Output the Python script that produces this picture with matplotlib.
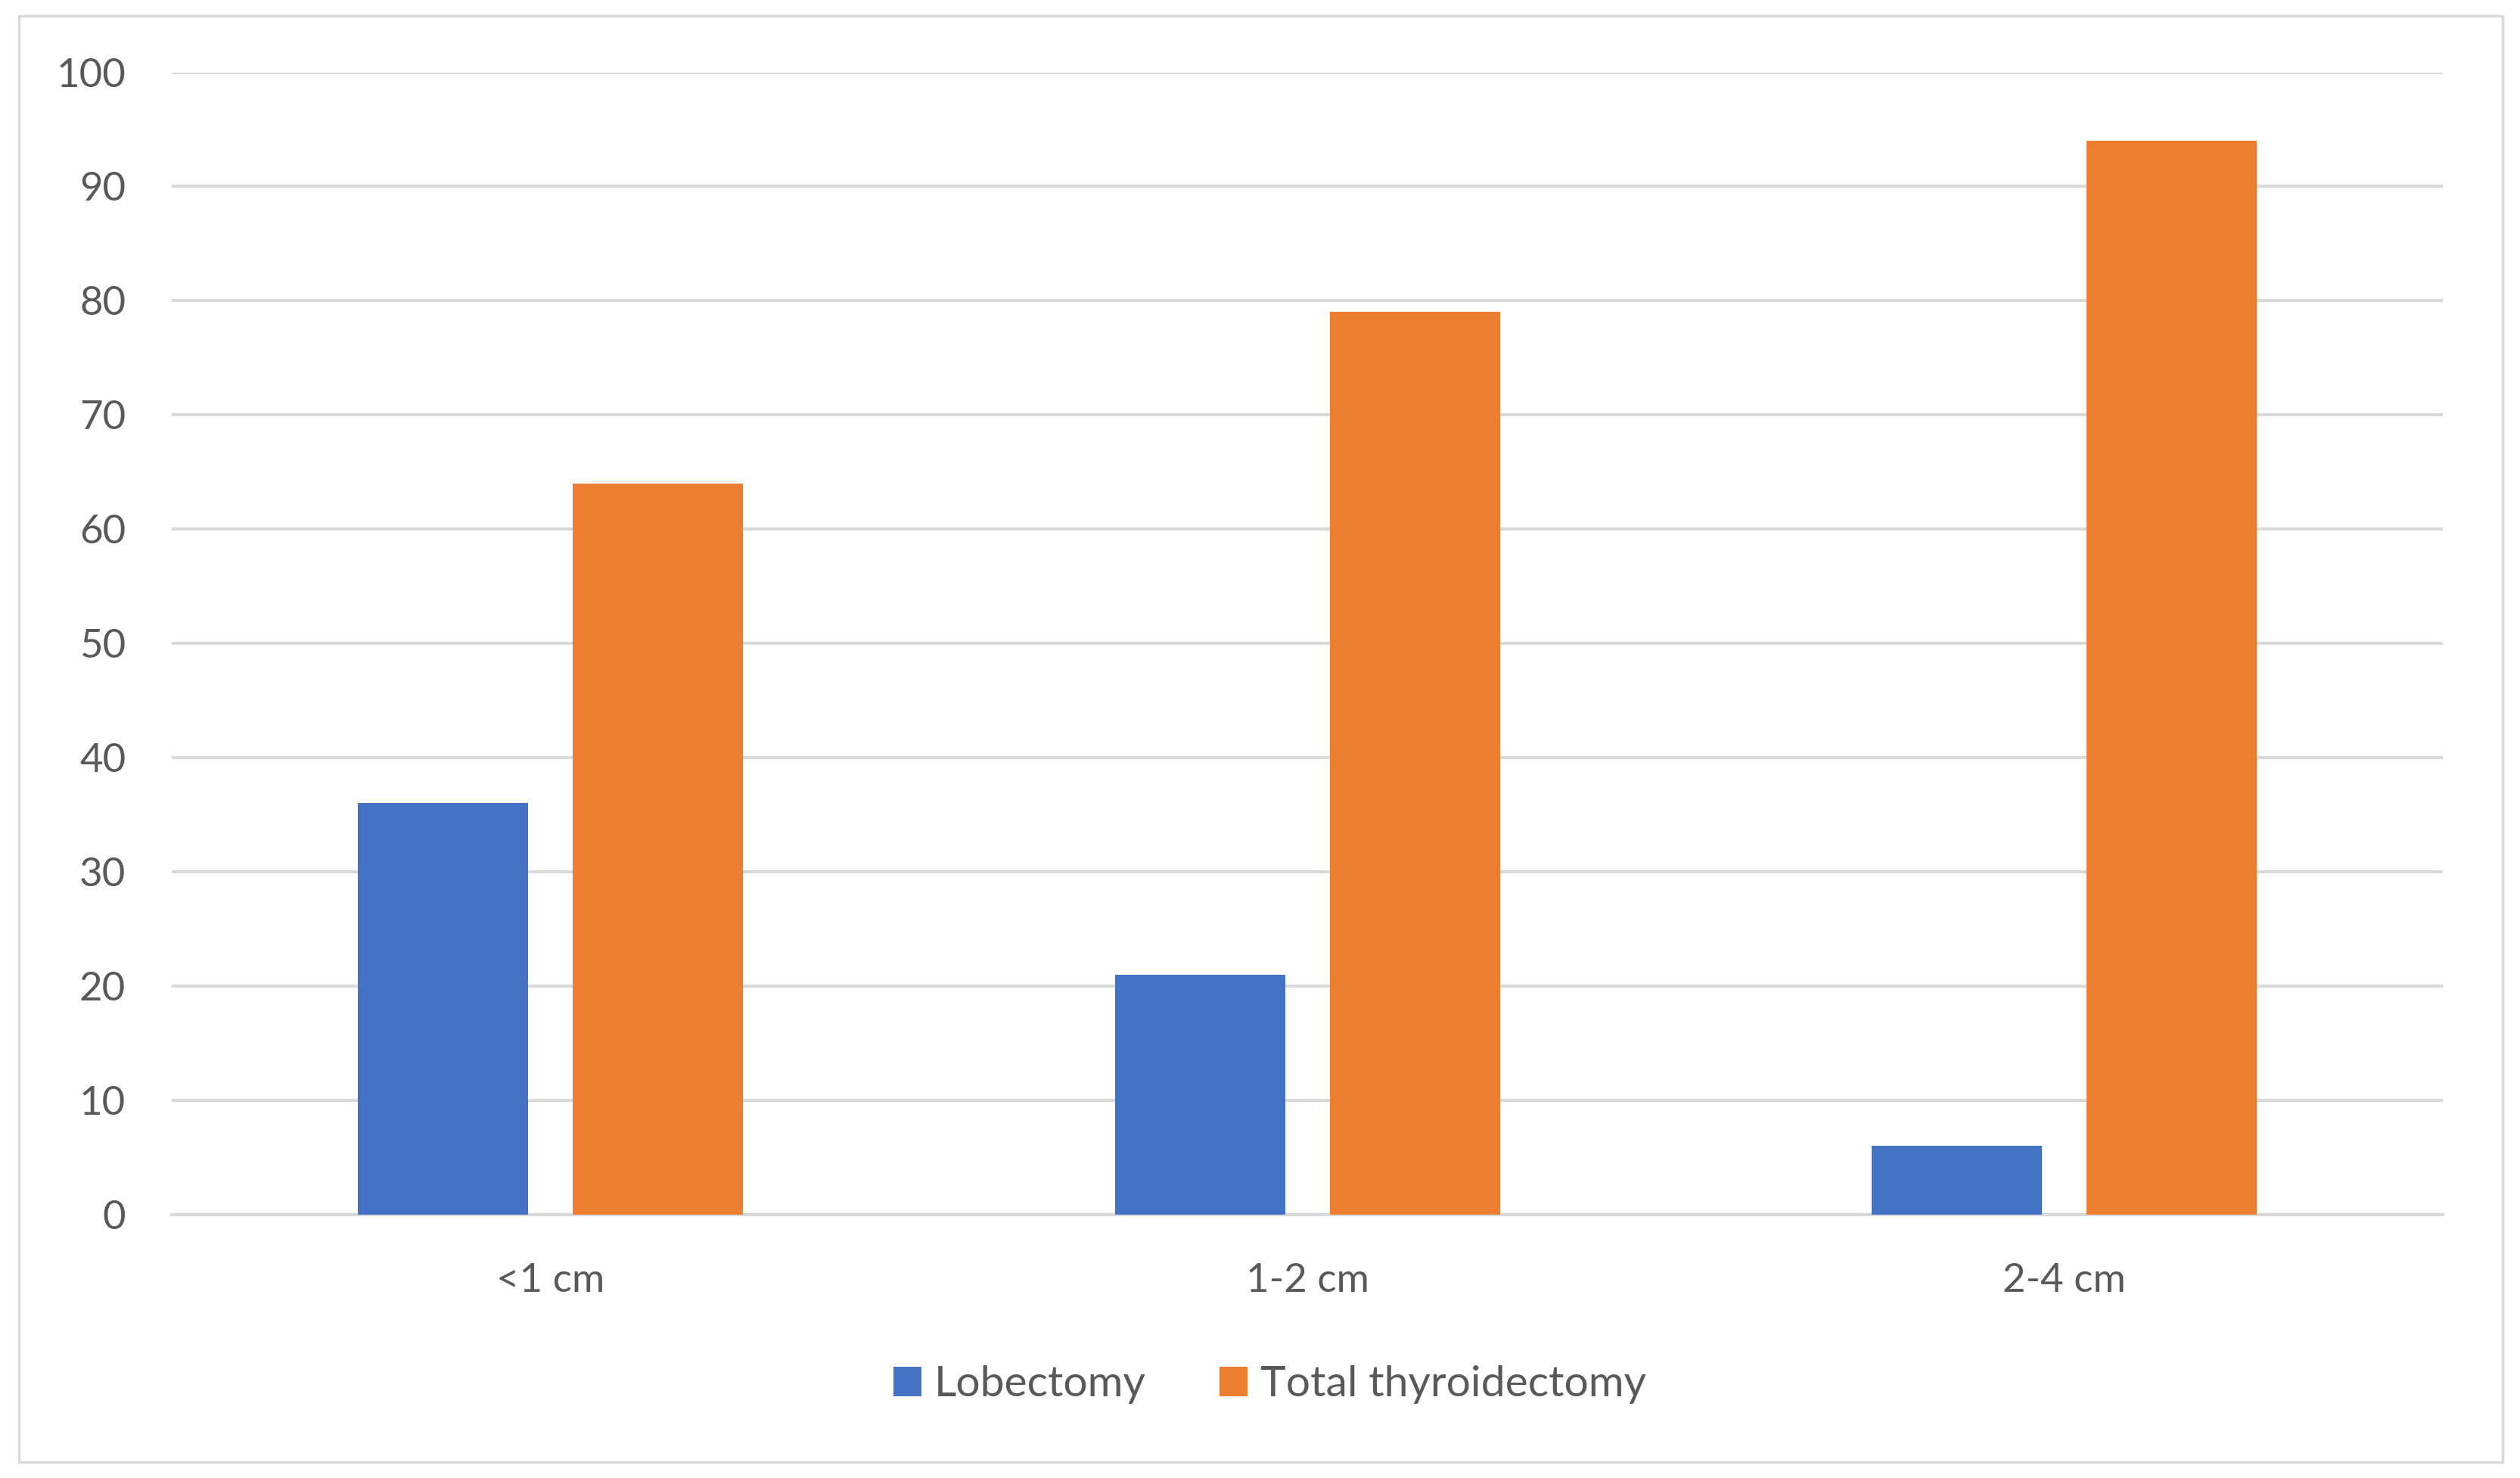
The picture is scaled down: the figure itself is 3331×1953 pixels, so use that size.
import matplotlib
matplotlib.use("Agg")
import matplotlib.pyplot as plt
import numpy as np
from matplotlib.patches import Rectangle

categories = ["<1 cm", "1-2 cm", "2-4 cm"]
lobectomy = [36, 21, 6]
total_thyroidectomy = [64, 79, 94]
series_names = ["Lobectomy", "Total thyroidectomy"]
yticks = [0, 10, 20, 30, 40, 50, 60, 70, 80, 90, 100]

plt.rcParams['font.family'] = ['Lato', 'DejaVu Sans']

fig = plt.figure(figsize=(3331/200, 1953/200), dpi=200)
fig.patch.set_facecolor("white")
ax = fig.add_axes([107/1568, 1-756/920, (1520-107)/1568, (756-45)/920])

x = np.arange(len(categories))
w = 0.225
off = 0.142
ax.bar(x - off, lobectomy, w, color="#4472C4", label=series_names[0], zorder=3)
ax.bar(x + off, total_thyroidectomy, w, color="#ED7D31", label=series_names[1], zorder=3)

ax.set_xlim(-0.5, 2.5)
ax.set_ylim(0, 100)
ax.set_yticks(yticks)
ax.set_xticks(x)
ax.set_xticklabels(categories)
ax.yaxis.grid(True, color="#d9d9d9", linewidth=1.5, zorder=0)
ax.set_axisbelow(True)
for s in ["top", "right", "left"]:
    ax.spines[s].set_visible(False)
ax.spines["bottom"].set_color("#d9d9d9")
ax.spines["bottom"].set_linewidth(1.5)
ax.tick_params(axis="both", length=0, labelsize=19, colors="#595959")
ax.tick_params(axis="y", pad=22)
ax.tick_params(axis="x", pad=23)

leg = fig.legend(loc="center", bbox_to_anchor=(790/1568, 1-862/920), ncol=2, frameon=False,
                 fontsize=20.5, handlelength=0.65, handleheight=0.7, handletextpad=0.3,
                 columnspacing=1.7, labelcolor="#595959")

fig.add_artist(Rectangle((12/1568, 10/920), (1557-12)/1568, (910-10)/920, transform=fig.transFigure,
                         fill=False, edgecolor="#d9d9d9", linewidth=1.2))

fig.savefig("out.png", dpi=200, facecolor="white")
